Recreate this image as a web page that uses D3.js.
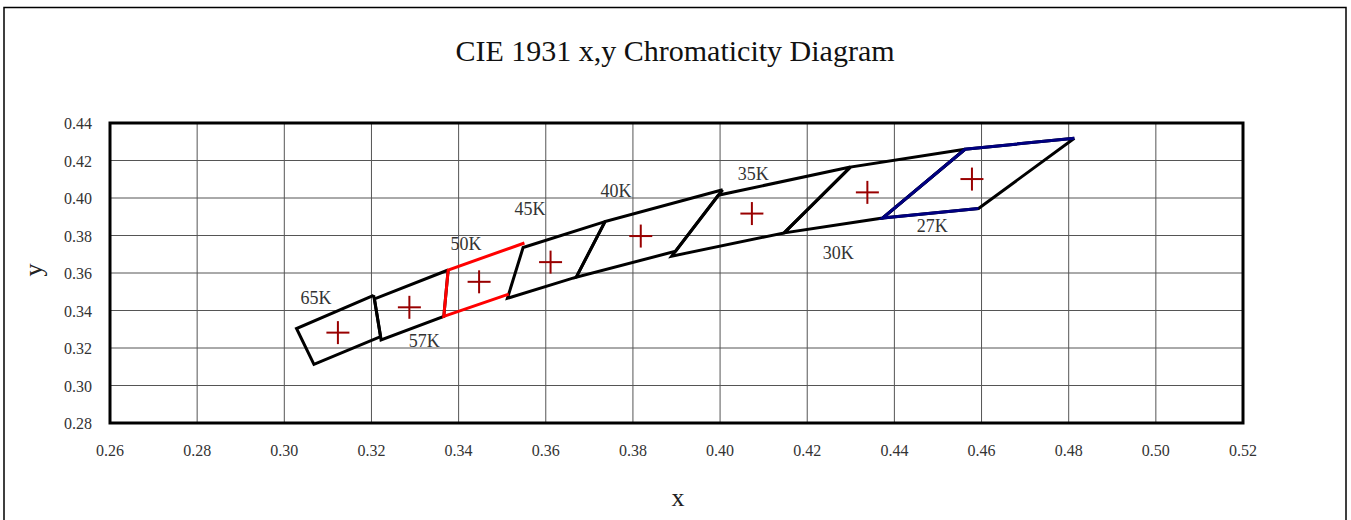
<!DOCTYPE html>
<html lang="en">
<head>
    <meta charset="utf-8">
    <title>cie_quadrangles</title>
    <script type="text/javascript" src="https://cdn.jsdelivr.net/npm/d3@7"></script>
    <style type="text/css">
        body { margin: 0; background: #fff; }
        text { font-family: "Liberation Serif", "DejaVu Serif", serif; }
    </style>
</head>
<body>

<script type="text/javascript">

    // CCT quadrangles (ANSI style)
    var cctLabels = ["65K", "57K", "50K", "45K", "40K", "35K", "30K", "27K"];
    var centerX = [0.3123, 0.3287, 0.3447, 0.3611, 0.3818, 0.4073, 0.4338, 0.4578];
    var centerY = [0.3282, 0.3417, 0.3553, 0.3658, 0.3797, 0.3917, 0.4030, 0.4101];

    // corners: top-right, top-left, bottom-left, bottom-right
    var quads = [
        [[0.3205, 0.3481], [0.3028, 0.3304], [0.3068, 0.3113], [0.3221, 0.3261]],
        [[0.3376, 0.3616], [0.3207, 0.3462], [0.3222, 0.3243], [0.3366, 0.3369]],
        [[0.3551, 0.3760], [0.3376, 0.3616], [0.3366, 0.3369], [0.3515, 0.3487]],
        [[0.3736, 0.3874], [0.3548, 0.3736], [0.3512, 0.3465], [0.3670, 0.3578]],
        [[0.4006, 0.4044], [0.3736, 0.3874], [0.3670, 0.3578], [0.3898, 0.3716]],
        [[0.4299, 0.4165], [0.3996, 0.4015], [0.3889, 0.3690], [0.4147, 0.3814]],
        [[0.4562, 0.4260], [0.4299, 0.4165], [0.4147, 0.3814], [0.4373, 0.3893]],
        [[0.4813, 0.4319], [0.4562, 0.4260], [0.4373, 0.3893], [0.4593, 0.3944]]
    ];

    // where the text boxes sit, in chart units
    var labelX = [0.3073, 0.3321, 0.3417, 0.3564, 0.3761, 0.4076, 0.4271, 0.4487];
    var labelY = [0.3467, 0.3238, 0.3755, 0.3942, 0.4038, 0.4133, 0.3707, 0.3856];

    var xTicks = d3.range(0.26, 0.5201, 0.02);
    var yTicks = d3.range(0.28, 0.4401, 0.02);

    var width = 1351, height = 520;
    var plot = {left: 110, right: 1243, top: 123, bottom: 423};

    var x = d3.scaleLinear().domain([0.26, 0.52]).range([plot.left, plot.right]);
    var y = d3.scaleLinear().domain([0.28, 0.44]).range([plot.bottom, plot.top]);

    var svg = d3.select("body")
        .append("svg")
        .attr("width", width)
        .attr("height", height);

    // outer chart frame
    svg.append("rect")
        .attr("x", 4).attr("y", 7.5)
        .attr("width", 1342).attr("height", 540)
        .attr("fill", "none")
        .attr("stroke", "#000")
        .attr("stroke-width", 1.5);

    svg.append("text")
        .attr("x", 675).attr("y", 61)
        .attr("text-anchor", "middle")
        .attr("font-size", 30)
        .attr("fill", "#111")
        .text("CIE 1931 x,y Chromaticity Diagram");

    // grid
    svg.append("g").selectAll("line")
        .data(xTicks)
        .enter()
        .append("line")
        .attr("x1", d => x(d)).attr("x2", d => x(d))
        .attr("y1", plot.top).attr("y2", plot.bottom)
        .attr("stroke", "#555")
        .attr("stroke-width", 1);
    svg.append("g").selectAll("line")
        .data(yTicks)
        .enter()
        .append("line")
        .attr("x1", plot.left).attr("x2", plot.right)
        .attr("y1", d => y(d)).attr("y2", d => y(d))
        .attr("stroke", "#555")
        .attr("stroke-width", 1);

    // tick labels
    svg.append("g").selectAll("text")
        .data(xTicks)
        .enter()
        .append("text")
        .attr("x", d => x(d))
        .attr("y", 456)
        .attr("text-anchor", "middle")
        .attr("font-size", 16)
        .attr("fill", "#333")
        .text(d3.format(".2f"));
    svg.append("g").selectAll("text")
        .data(yTicks)
        .enter()
        .append("text")
        .attr("x", 92)
        .attr("y", d => y(d) + 6)
        .attr("text-anchor", "end")
        .attr("font-size", 16)
        .attr("fill", "#333")
        .text(d3.format(".2f"));

    svg.append("text")
        .attr("x", 678).attr("y", 506)
        .attr("text-anchor", "middle")
        .attr("font-size", 26)
        .attr("fill", "#222")
        .text("x");
    svg.append("text")
        .attr("transform", "translate(42,270) rotate(-90)")
        .attr("text-anchor", "middle")
        .attr("font-size", 26)
        .attr("fill", "#222")
        .text("y");

    var line = d3.line().x(d => x(d[0])).y(d => y(d[1]));

    // black quadrangles (50K is drawn red only, see below)
    svg.append("g").selectAll("path")
        .data(quads.filter((q, i) => cctLabels[i] !== "50K"))
        .enter()
        .append("path")
        .attr("d", d => line(d.concat([d[0]])))
        .attr("fill", "none")
        .attr("stroke", "#000")
        .attr("stroke-width", 3)
        .attr("stroke-linejoin", "miter");

    // coloured open outlines
    var colored = [{i: 2, color: "#ff0000"}, {i: 7, color: "#000080"}];
    svg.append("g").selectAll("path")
        .data(colored)
        .enter()
        .append("path")
        .attr("d", d => line(quads[d.i]))
        .attr("fill", "none")
        .attr("stroke", d => d.color)
        .attr("stroke-width", 3);

    // centre crosses
    var cs = 11.5;
    var cross = svg.append("g").selectAll("g")
        .data(centerX.map((cx, i) => [cx, centerY[i]]))
        .enter()
        .append("g")
        .attr("stroke", "#990000")
        .attr("stroke-width", 2);
    cross.append("line")
        .attr("x1", d => x(d[0]) - cs).attr("x2", d => x(d[0]) + cs)
        .attr("y1", d => y(d[1])).attr("y2", d => y(d[1]));
    cross.append("line")
        .attr("x1", d => x(d[0])).attr("x2", d => x(d[0]))
        .attr("y1", d => y(d[1]) - cs).attr("y2", d => y(d[1]) + cs);

    // CCT labels
    svg.append("g").selectAll("text")
        .data(cctLabels)
        .enter()
        .append("text")
        .attr("x", (d, i) => x(labelX[i]))
        .attr("y", (d, i) => y(labelY[i]) + 6.5)
        .attr("text-anchor", "middle")
        .attr("font-size", 18)
        .attr("fill", "#333")
        .text(d => d);

    // plot border on top
    svg.append("rect")
        .attr("x", plot.left).attr("y", plot.top)
        .attr("width", plot.right - plot.left)
        .attr("height", plot.bottom - plot.top)
        .attr("fill", "none")
        .attr("stroke", "#000")
        .attr("stroke-width", 3);

</script>
</body>
</html>
